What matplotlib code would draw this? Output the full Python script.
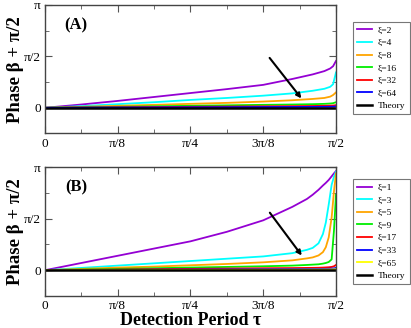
import numpy as np
import matplotlib
matplotlib.use("Agg")
import matplotlib.pyplot as plt
from matplotlib.ticker import MultipleLocator

plt.rcParams['font.family'] = ['Liberation Serif', 'DejaVu Serif']
plt.rcParams['mathtext.fontset'] = 'stix'

# --- data (tau given as fraction of pi/2, phase in radians) ---
tau_a = [0, 0.125, 0.25, 0.375, 0.5, 0.625, 0.75, 0.85, 0.92, 0.96, 0.98, 0.99, 1.0]
labels_a = ['ξ=2', 'ξ=4', 'ξ=8', 'ξ=16', 'ξ=32', 'ξ=64']
xi2 = [0, 0.10, 0.21, 0.33, 0.45, 0.57, 0.70, 0.88, 1.02, 1.12, 1.20, 1.27, 1.43]
xi4 = [0, 0.05, 0.11, 0.17, 0.24, 0.30, 0.37, 0.44, 0.52, 0.58, 0.64, 0.72, 1.08]
xi8 = [0, 0.03, 0.06, 0.09, 0.12, 0.15, 0.19, 0.23, 0.27, 0.30, 0.34, 0.39, 0.47]
xi16 = [0, 0.015, 0.03, 0.045, 0.06, 0.075, 0.09, 0.10, 0.11, 0.12, 0.13, 0.14, 0.17]
xi32 = [0, 0.008, 0.015, 0.022, 0.03, 0.037, 0.045, 0.05, 0.055, 0.06, 0.065, 0.07, 0.08]
xi64 = [0, 0.004, 0.008, 0.011, 0.015, 0.018, 0.022, 0.025, 0.028, 0.03, 0.032, 0.035, 0.04]

tau_b = [0, 0.125, 0.25, 0.375, 0.5, 0.625, 0.75, 0.85, 0.9, 0.92, 0.94, 0.955, 0.965,
         0.975, 0.985, 0.993, 1.0]
labels_b = ['ξ=1', 'ξ=3', 'ξ=5', 'ξ=9', 'ξ=17', 'ξ=33', 'ξ=65']
xi1 = [0, 0.22, 0.44, 0.66, 0.88, 1.17, 1.52, 1.93, 2.17, 2.30, 2.45, 2.58, 2.66,
       2.75, 2.86, 2.95, 3.02]
xi3 = [0, 0.07, 0.14, 0.21, 0.28, 0.35, 0.42, 0.52, 0.62, 0.68, 0.82, 1.10, 1.45,
       2.00, 2.60, 2.85, 3.00]
xi5 = [0, 0.04, 0.08, 0.11, 0.15, 0.19, 0.24, 0.30, 0.36, 0.39, 0.45, 0.55, 0.70,
       1.00, 1.60, 2.40, 2.95]
xi9 = [0, 0.02, 0.04, 0.06, 0.08, 0.10, 0.12, 0.14, 0.16, 0.17, 0.18, 0.20, 0.22,
       0.25, 0.33, 1.20, 2.30]
xi17 = [0, 0.01, 0.02, 0.03, 0.04, 0.05, 0.06, 0.065, 0.07, 0.072, 0.075, 0.08, 0.085,
        0.09, 0.10, 0.12, 0.16]
xi33 = [0, 0.005, 0.01, 0.015, 0.02, 0.025, 0.03, 0.033, 0.035, 0.036, 0.038, 0.04, 0.042,
        0.045, 0.05, 0.055, 0.07]
xi65 = [0, 0.002, 0.005, 0.007, 0.01, 0.012, 0.015, 0.016, 0.017, 0.018, 0.019, 0.02, 0.021,
        0.022, 0.024, 0.026, 0.03]

colors = ['#9400d3', '#00ffff', '#ffa500', '#00ee00', '#ff0000', '#0000ff', '#ffff00']

half_pi = np.pi / 2
ta = np.array(tau_a) * half_pi
tb = np.array(tau_b) * half_pi

fig = plt.figure(figsize=(4.11, 3.28), dpi=100)
ax1 = fig.add_axes([0.1095, 0.593, 0.708, 0.392])
ax2 = fig.add_axes([0.1095, 0.0976, 0.708, 0.393])

for ys, lab, c in zip([xi2, xi4, xi8, xi16, xi32, xi64], labels_a, colors):
    ax1.plot(ta, ys, color=c, lw=1.3, label=lab)
ax1.plot(ta, np.zeros_like(ta), color='black', lw=1.8, label='Theory')

for ys, lab, c in zip([xi1, xi3, xi5, xi9, xi17, xi33, xi65], labels_b, colors):
    ax2.plot(tb, ys, color=c, lw=1.3, label=lab)
ax2.plot(tb, np.zeros_like(tb), color='black', lw=1.8, label='Theory')

# arrows showing increasing xi
ax1.annotate('', xy=(0.887 * half_pi, 0.22), xytext=(0.766 * half_pi, 1.59),
             arrowprops=dict(arrowstyle='-|>', color='black', lw=1.5, mutation_scale=7))
ax2.annotate('', xy=(0.888 * half_pi, 0.38), xytext=(0.767 * half_pi, 1.82),
             arrowprops=dict(arrowstyle='-|>', color='black', lw=1.5, mutation_scale=7))

for ax, tag, ly in [(ax1, '(A)', 0.868), (ax2, '(B)', 0.907)]:
    ax.set_xlim(0, half_pi)
    ax.set_ylim(-np.pi / 4, np.pi)
    ax.set_xticks([0, np.pi / 8, np.pi / 4, 3 * np.pi / 8, np.pi / 2])
    ax.set_xticklabels(['0', 'π/8', 'π/4', '3π/8', 'π/2'])
    ax.set_yticks([0, np.pi / 2, np.pi])
    ax.set_yticklabels(['0', 'π/2', 'π'])
    ax.xaxis.set_minor_locator(MultipleLocator(np.pi / 16))
    ax.yaxis.set_minor_locator(MultipleLocator(np.pi / 4))
    ax.tick_params(which='both', direction='in', top=True, right=True,
                   labelsize=9.5, color='#555555', pad=3)
    ax.tick_params(which='major', length=5)
    ax.tick_params(which='minor', length=3)
    for s in ax.spines.values():
        s.set_color('#444444')
        s.set_linewidth(1.0)
    ax.set_ylabel('Phase β + π/2', fontsize=13.5, fontweight='bold', labelpad=0)
    ax.text(0.107, 0.84, tag, transform=ax.transAxes, fontsize=12,
            fontweight='bold', ha='center', va='center')
    leg = ax.legend(loc='upper left', bbox_to_anchor=(1.058, ly), fontsize=6.8,
                    frameon=True, fancybox=False, edgecolor='#555555',
                    handlelength=1.6, handletextpad=0.6, labelspacing=0.42,
                    borderpad=0.45, borderaxespad=0)
    leg.get_frame().set_linewidth(0.8)

ax2.set_xlabel('Detection Period τ', fontsize=13, fontweight='bold', labelpad=0)

fig.savefig('out.png', dpi=100)
